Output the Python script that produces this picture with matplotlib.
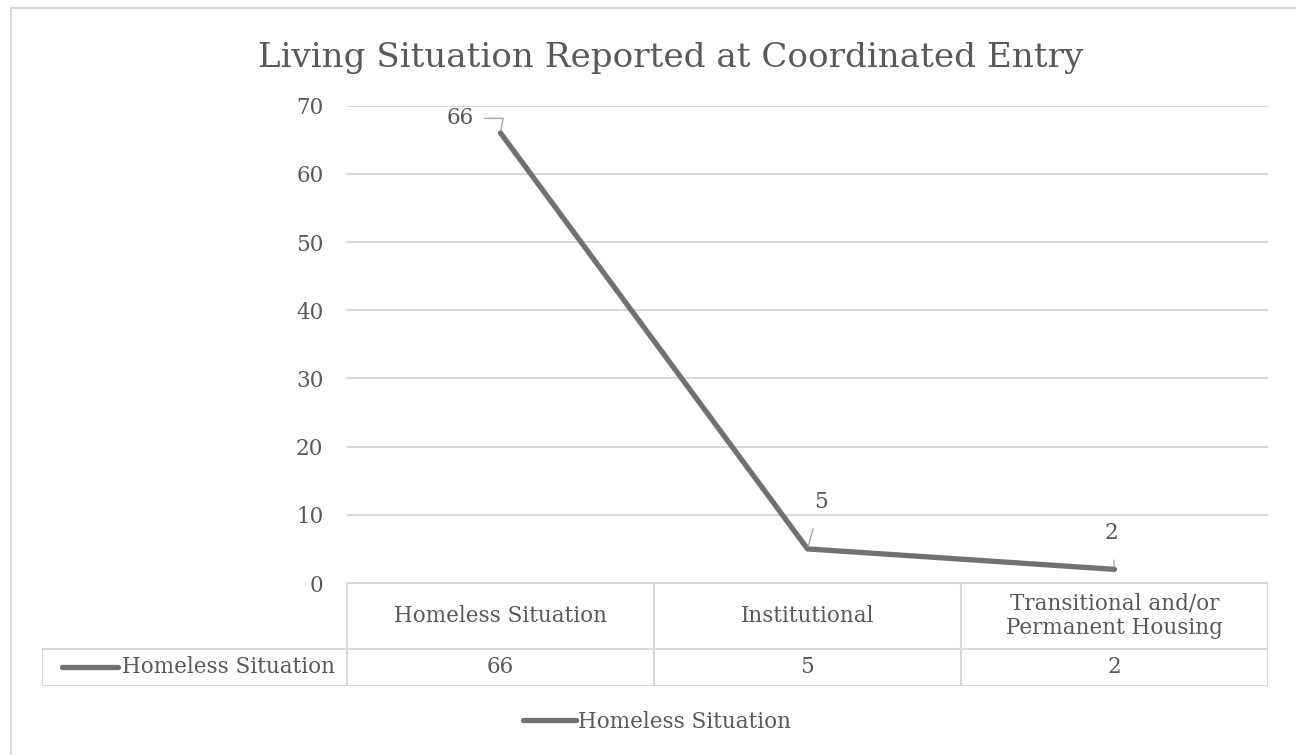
import matplotlib
matplotlib.use('Agg')
import matplotlib.pyplot as plt
from matplotlib.lines import Line2D
from matplotlib.patches import Rectangle

categories = ['Homeless Situation', 'Institutional', 'Transitional and/or\nPermanent Housing']
series_name = 'Homeless Situation'
values = [66, 5, 2]
y_ticks = [0, 10, 20, 30, 40, 50, 60, 70]

LINE = '#707075'
TEXT = '#595959'
GRID = '#d9d9d9'
FS = 15.5

plt.rcParams['font.family'] = ['DejaVu Serif']
plt.rcParams['text.color'] = TEXT

W, H = 1296, 755
fig = plt.figure(figsize=(W / 100, H / 100), dpi=100)

# chart border (runs off the right and bottom edges)
fig.patches.append(Rectangle((11 / W, -0.1), 1.2, 1 - 8 / H + 0.1, transform=fig.transFigure,
                             fill=False, ec=GRID, lw=1.5))

fig.text(671 / W, 1 - 58 / H, 'Living Situation Reported at Coordinated Entry',
         ha='center', va='center', fontsize=24.6, color=TEXT)

# plot area
ax = fig.add_axes([347 / W, 1 - 583 / H, 921 / W, (583 - 105.7) / H])
x = list(range(len(values)))
ax.plot(x, values, color=LINE, lw=3.8, solid_capstyle='round', solid_joinstyle='round', zorder=3)
ax.set_xlim(-0.5, len(values) - 0.5)
ax.set_ylim(0, 70)
ax.set_yticks(y_ticks)
ax.set_xticks([])
for s in ax.spines.values():
    s.set_visible(False)
ax.grid(axis='y', color=GRID, lw=1.5)
ax.set_axisbelow(True)
ax.tick_params(axis='y', length=0, pad=17, labelsize=FS, labelcolor=TEXT)

# data labels with leader lines
ax.annotate(str(values[0]), xy=(x[0], values[0]), xytext=(-19.5, 10.5), textcoords='offset points',
            ha='right', va='center', fontsize=FS, color=TEXT,
            arrowprops=dict(arrowstyle='-', color='#a6a6a6', lw=1,
                            connectionstyle='angle,angleA=0,angleB=80,rad=0',
                            shrinkA=6, shrinkB=2))
ax.annotate(str(values[1]), xy=(x[1], values[1]), xytext=(9.5, 34), textcoords='offset points',
            ha='center', va='center', fontsize=FS, color=TEXT,
            arrowprops=dict(arrowstyle='-', color='#a6a6a6', lw=1, shrinkA=10, shrinkB=2))
ax.annotate(str(values[2]), xy=(x[2], values[2]), xytext=(-2, 26.5), textcoords='offset points',
            ha='center', va='center', fontsize=FS, color=TEXT,
            arrowprops=dict(arrowstyle='-', color='#a6a6a6', lw=1, shrinkA=10, shrinkB=2))

# data table under the axis
left = -0.5 - (347 - 42) / 307
tab = fig.add_axes([42 / W, 1 - 686 / H, (1268 - 42) / W, (686 - 583) / H])
tab.set_xlim(left, len(values) - 0.5)
tab.set_ylim(-103, 0)
tab.axis('off')
hdr_bot = -65.7
lk = dict(color=GRID, lw=1.5, solid_capstyle='butt')
tab.plot([-0.5, len(values) - 0.5], [0, 0], **lk)
tab.plot([left, len(values) - 0.5], [hdr_bot, hdr_bot], **lk)
tab.plot([left, len(values) - 0.5], [-103, -103], **lk)
tab.plot([left, left], [hdr_bot, -103], **lk)
for i in range(len(values) + 1):
    tab.plot([i - 0.5, i - 0.5], [0, -103], **lk)
for i, (c, v) in enumerate(zip(categories, values)):
    tab.text(i, hdr_bot / 2, c, ha='center', va='center', fontsize=FS, color=TEXT, linespacing=1.15)
    tab.text(i, (hdr_bot - 103) / 2, str(v), ha='center', va='center', fontsize=FS, color=TEXT)
kx0 = left + (62 - 42) / 307
kx1 = left + (118 - 42) / 307
tab.plot([kx0, kx1], [(hdr_bot - 103) / 2] * 2, color=LINE, lw=3.8, solid_capstyle='round')
tab.text(left + (122 - 42) / 307, (hdr_bot - 103) / 2, series_name, ha='left', va='center',
         fontsize=FS, color=TEXT)

# legend
fig.legend([Line2D([], [], color=LINE, lw=3.8, solid_capstyle='round')], [series_name],
           loc='center', bbox_to_anchor=(657 / W, 1 - 722 / H), frameon=False,
           fontsize=FS, handlelength=2.5, handletextpad=0.1, labelcolor=TEXT)

fig.savefig('out.png', dpi=100)
